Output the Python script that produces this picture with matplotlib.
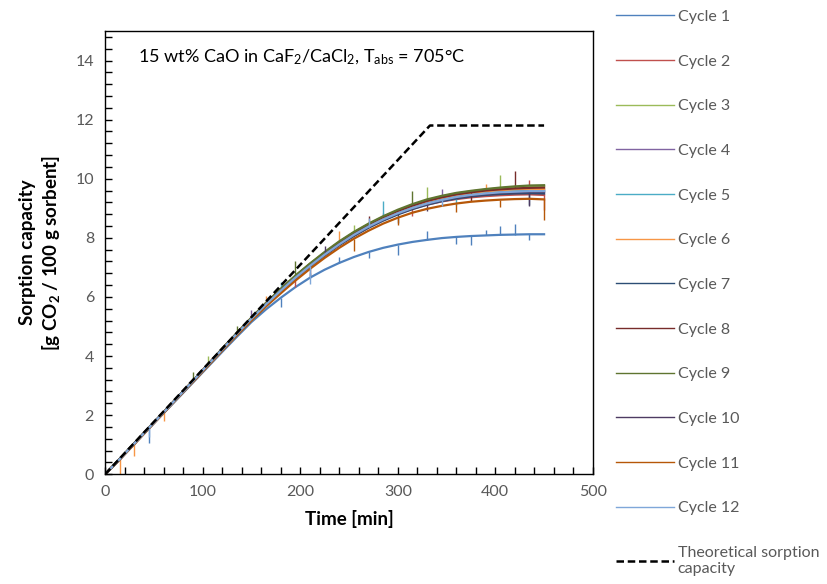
import numpy as np
import matplotlib
matplotlib.use("Agg")
import matplotlib.pyplot as plt
from matplotlib.ticker import MultipleLocator

plt.rcParams['font.family'] = ['Lato', 'DejaVu Sans']
plt.rcParams['mathtext.fontset'] = 'custom'
plt.rcParams['mathtext.rm'] = 'Lato'
plt.rcParams['mathtext.bf'] = 'Lato:bold'

# time grid [min]
time = [0, 15, 30, 45, 60, 75, 90, 105, 120, 135, 150, 165, 180, 195, 210, 225,
        240, 255, 270, 285, 300, 315, 330, 345, 360, 375, 390, 405, 420, 435, 450]

cycle1 = [0, 0.50, 1.02, 1.55, 2.07, 2.58, 3.10, 3.62, 4.14, 4.65, 5.15, 5.58, 5.97, 6.33, 6.65, 6.92,
          7.15, 7.35, 7.52, 7.66, 7.77, 7.86, 7.93, 7.99, 8.03, 8.06, 8.08, 8.10, 8.11, 8.12, 8.12]
cycle2 = [0, 0.51, 1.04, 1.57, 2.09, 2.62, 3.14, 3.68, 4.22, 4.74, 5.25, 5.74, 6.20, 6.63, 7.03, 7.41,
          7.76, 8.07, 8.35, 8.60, 8.81, 8.98, 9.12, 9.23, 9.31, 9.37, 9.41, 9.44, 9.46, 9.47, 9.45]
cycle3 = [0, 0.52, 1.05, 1.58, 2.10, 2.63, 3.16, 3.70, 4.24, 4.77, 5.29, 5.79, 6.26, 6.71, 7.12, 7.50,
          7.86, 8.18, 8.46, 8.71, 8.92, 9.11, 9.27, 9.40, 9.50, 9.57, 9.63, 9.68, 9.71, 9.74, 9.75]
cycle4 = [0, 0.52, 1.05, 1.58, 2.10, 2.63, 3.15, 3.69, 4.23, 4.76, 5.27, 5.77, 6.23, 6.67, 7.07, 7.45,
          7.80, 8.12, 8.40, 8.64, 8.85, 9.03, 9.18, 9.30, 9.39, 9.46, 9.51, 9.55, 9.58, 9.60, 9.60]
cycle5 = [0, 0.52, 1.05, 1.58, 2.10, 2.63, 3.15, 3.69, 4.23, 4.76, 5.27, 5.76, 6.22, 6.66, 7.07, 7.45,
          7.80, 8.12, 8.40, 8.65, 8.86, 9.04, 9.19, 9.31, 9.41, 9.48, 9.53, 9.57, 9.60, 9.62, 9.62]
cycle6 = [0, 0.50, 1.03, 1.57, 2.10, 2.63, 3.16, 3.70, 4.24, 4.77, 5.28, 5.78, 6.25, 6.69, 7.10, 7.48,
          7.83, 8.15, 8.43, 8.68, 8.89, 9.07, 9.23, 9.35, 9.45, 9.52, 9.57, 9.61, 9.64, 9.66, 9.65]
cycle7 = [0, 0.51, 1.04, 1.57, 2.09, 2.62, 3.14, 3.68, 4.22, 4.74, 5.25, 5.74, 6.20, 6.63, 7.03, 7.40,
          7.75, 8.06, 8.34, 8.58, 8.79, 8.97, 9.12, 9.24, 9.33, 9.40, 9.45, 9.48, 9.50, 9.51, 9.50]
cycle8 = [0, 0.52, 1.05, 1.58, 2.10, 2.63, 3.16, 3.70, 4.24, 4.77, 5.29, 5.79, 6.26, 6.70, 7.11, 7.49,
          7.85, 8.17, 8.45, 8.70, 8.91, 9.09, 9.25, 9.37, 9.47, 9.54, 9.60, 9.64, 9.67, 9.69, 9.70]
cycle9 = [0, 0.52, 1.05, 1.58, 2.10, 2.63, 3.16, 3.70, 4.25, 4.78, 5.30, 5.80, 6.27, 6.72, 7.13, 7.52,
          7.88, 8.20, 8.48, 8.73, 8.95, 9.14, 9.30, 9.42, 9.52, 9.59, 9.65, 9.70, 9.74, 9.77, 9.78]
cycle10 = [0, 0.51, 1.04, 1.57, 2.09, 2.62, 3.15, 3.69, 4.23, 4.75, 5.26, 5.75, 6.21, 6.64, 7.05, 7.42,
           7.77, 8.09, 8.37, 8.61, 8.82, 9.00, 9.15, 9.27, 9.36, 9.43, 9.48, 9.52, 9.54, 9.56, 9.55]
cycle11 = [0, 0.50, 1.02, 1.55, 2.07, 2.60, 3.12, 3.65, 4.18, 4.70, 5.20, 5.68, 6.12, 6.55, 6.95, 7.32,
           7.66, 7.97, 8.24, 8.48, 8.68, 8.85, 8.98, 9.08, 9.16, 9.22, 9.26, 9.29, 9.31, 9.32, 9.30]
cycle12 = [0, 0.51, 1.04, 1.57, 2.09, 2.62, 3.15, 3.69, 4.22, 4.75, 5.26, 5.75, 6.21, 6.65, 7.05, 7.43,
           7.78, 8.10, 8.38, 8.62, 8.83, 9.01, 9.16, 9.28, 9.38, 9.45, 9.50, 9.54, 9.56, 9.58, 9.58]

# noise spikes: (index in time grid, deviation)
spikes1 = [(3, -0.5), (12, -0.3), (14, 0.15), (16, 0.2), (18, -0.2), (20, -0.35), (22, 0.3),
           (24, -0.25), (25, -0.3), (26, 0.2), (27, 0.3), (28, 0.35), (29, -0.2)]
spikes2 = [(29, 0.5), (30, -0.5), (13, -0.3), (21, -0.25)]
spikes3 = [(7, 0.3), (22, 0.45), (27, 0.45), (17, 0.25)]
spikes4 = [(23, 0.35), (10, 0.3), (19, 0.2)]
spikes5 = [(19, 0.6), (12, 0.3), (24, -0.3)]
spikes6 = [(1, -0.5), (2, -0.4), (11, 0.25), (16, 0.4), (4, -0.3), (26, 0.25)]
spikes7 = [(20, -0.3), (29, -0.4)]
spikes8 = [(28, 0.6), (14, -0.4), (18, 0.3), (25, -0.3)]
spikes9 = [(13, 0.5), (6, 0.3), (21, 0.45), (9, 0.25)]
spikes10 = [(29, -0.5), (15, 0.3), (22, -0.25)]
spikes11 = [(30, -0.7), (17, -0.4), (24, -0.3), (20, -0.25), (27, -0.25)]
spikes12 = [(14, -0.6), (3, -0.3), (18, 0.3), (23, -0.2)]

theo_time = [0, 333, 450]
theo_cap = [0, 11.8, 11.8]

labels = ['Cycle %d' % i for i in range(1, 13)]
colors = ['#4F81BD', '#C0504D', '#9BBB59', '#8064A2', '#4BACC6', '#F79646',
          '#2C4D75', '#772C2A', '#5F7530', '#4D3B62', '#B65708', '#7FA7D9']

cycles = [cycle1, cycle2, cycle3, cycle4, cycle5, cycle6,
          cycle7, cycle8, cycle9, cycle10, cycle11, cycle12]
spikes = [spikes1, spikes2, spikes3, spikes4, spikes5, spikes6,
          spikes7, spikes8, spikes9, spikes10, spikes11, spikes12]

fig = plt.figure(figsize=(8.28, 5.84), dpi=100)
ax = fig.add_axes([0.127, 0.188, 0.589, 0.759])

for vals, sp, lab, c in zip(cycles, spikes, labels, colors):
    ax.plot(time, vals, color=c, lw=1.6, label=lab)
    for idx, dv in sp:
        ax.vlines(time[idx], vals[idx], vals[idx] + dv, color=c, lw=1.0)

ax.plot(theo_time, theo_cap, color='black', lw=1.8, ls=(0, (3, 1.5)),
        label='Theoretical sorption\ncapacity')

ax.set_xlim(0, 500)
ax.set_ylim(0, 15)
ax.xaxis.set_major_locator(MultipleLocator(100))
ax.xaxis.set_minor_locator(MultipleLocator(20))
ax.yaxis.set_major_locator(MultipleLocator(2))
ax.yaxis.set_minor_locator(MultipleLocator(0.4))
ax.tick_params(which='both', direction='in', length=5, width=1, colors='black',
               labelcolor='#595959', labelsize=11.5, pad=8)
for s in ax.spines.values():
    s.set_color('black')
    s.set_linewidth(1)

ax.set_xlabel('Time [min]', fontsize=13.5, fontweight='bold', labelpad=8)
ax.set_ylabel('Sorption capacity\n[g CO$\\mathregular{_2}$ / 100 g sorbent]',
              fontsize=13.5, fontweight='bold', labelpad=10)

ax.text(0.068, 0.94, '15 wt% CaO in CaF$\\mathregular{_2}$/CaCl$\\mathregular{_2}$, T$\\mathregular{_{abs}}$ = 705°C',
        transform=ax.transAxes, fontsize=13, va='center', ha='left')

leg = fig.legend(loc='upper left', bbox_to_anchor=(0.727, 1.008), frameon=False,
                 fontsize=11.5, labelcolor='#595959', handlelength=3.6,
                 handletextpad=0.25, labelspacing=1.91)
for h in leg.legend_handles[:-1]:
    h.set_linewidth(1.0)

fig.savefig('out.png', dpi=100)
